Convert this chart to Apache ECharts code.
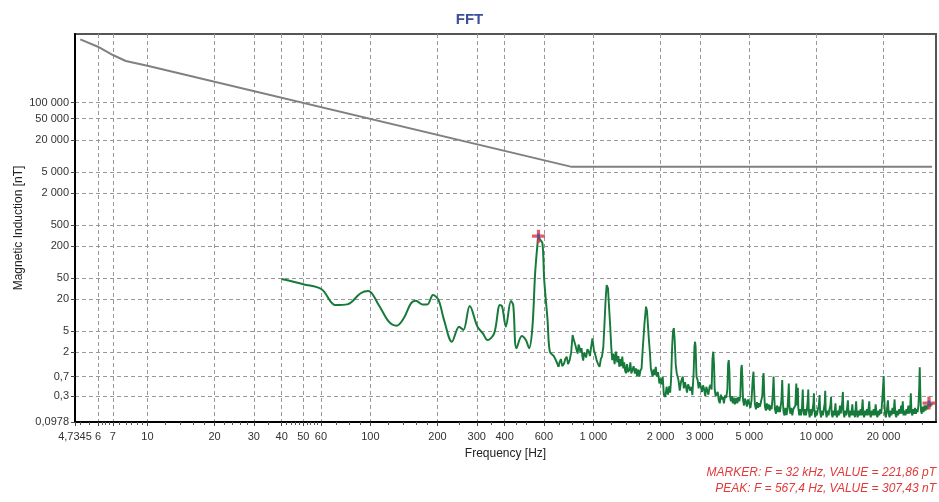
<!DOCTYPE html>
<html><head><meta charset="utf-8">
<script src="https://cdn.jsdelivr.net/npm/echarts@6/dist/echarts.min.js"></script>
<style>html,body{margin:0;padding:0;background:#fff}#c{width:939px;height:502px}</style>
</head><body><div id="c"></div>
<script>
const xTickValues = [4.7345,6,7,10,20,30,40,50,60,100,200,300,400,600,1000,2000,3000,5000,10000,20000];
const xTickLabels = ['4,7345','6','7','10','20','30','40','50','60','100','200','300','400','600','1 000','2 000','3 000','5 000','10 000','20 000'];
const xMinorTicks = [5,5.5,6.25,6.5,6.75,7.5,8,8.5,9,9.5,12,14,16,18,22,24,26,28,35,42,44,46,48,52,54,56,58,70,80,90,120,140,160,180,250,350,450,500,700,800,900,1200,1400,1600,1800,2500,3500,4000,4500,6000,7000,8000,9000,12000,14000,16000,18000,25000,30000];
const yTickValues = [100000,50000,20000,5000,2000,500,200,50,20,5,2,0.7,0.3,0.0978];
const yTickLabels = ['100 000','50 000','20 000','5 000','2 000','500','200','50','20','5','2','0,7','0,3','0,0978'];

const limitFreq = [5,6,7,8,10,800,33000];
const limitMag = [1560000,1130000,790000,610000,497000,6200,6200];

const fftLow = [[40,48],[50.4,38],[60.4,30.8],[69.8,15.5],[78.8,16],[90.4,25.9],[97.9,28.6],[109,15.6],[121,7.55],[131,6.35],[141,8.75],[152,16.7],[160,18.8],[171,16],[180,16],[191,24],[202,19.4],[214,8.1],[232,3.17],[250,6.1],[261,5.27],[279,14.9],[302,6.1],[320,4.5],[335,3.4],[359,4.56],[381,15.6],[390,14.5],[405,6.1],[427,18.5],[437,15.6],[452,2.39],[478,4.06],[498,3.4],[515,2.39],[533,6.1],[548,61.5],[562,226],[567.4,307.43],[575,269],[591,226],[602,46],[623,8.1],[638,2.06],[667,1.66],[698,1.07]];
const fftMid = [[705,1.3],[715,1.5],[725,1.1],[739,1.24],[748,1.5],[759,1.66],[770,1.2],[783,1.43],[795,2.0],[807,4.25],[815,3.6],[827,3.4],[833,2.6],[840,2.25],[850,1.9],[858,2.8],[865,2.55],[875,2.0],[885,2.4],[893,1.66],[900,1.4],[910,2.0],[918,2.06],[928,1.6],[940,2.3],[954,2.06],[965,1.7],[978,2.6],[990,3.67],[1005,2.25],[1020,1.8],[1034,1.43],[1050,1.2],[1066,1.07],[1080,1.5],[1093,1.66],[1108,2.5],[1120,6.1],[1135,20],[1147,37],[1163,32],[1175,15],[1190,6.1],[1203,2.5],[1215,1.43],[1230,1.9],[1245,1.2],[1263,2.06],[1280,1.3],[1295,1.7],[1307,1.07],[1320,1.5],[1335,1.1],[1348,1.66],[1362,1.0],[1375,1.3],[1388,0.9],[1400,0.807],[1415,1.2],[1430,0.85],[1450,0.93],[1465,1.3],[1480,0.8],[1500,0.75],[1515,1.1],[1535,0.8],[1552,1.0],[1570,0.72],[1590,0.95],[1608,0.70],[1625,0.9],[1645,1.0],[1664,2.25],[1695,7],[1722,14.5],[1740,12],[1752,11.6],[1770,4],[1794,1.9],[1810,1.0],[1825,0.85],[1843,0.70],[1860,0.95],[1880,0.75],[1905,1.07],[1925,0.7],[1950,0.85],[1977,0.52],[2000,0.65],[2020,0.5],[2046,0.70],[2070,0.32],[2102,0.29],[2130,0.45],[2160,0.32],[2190,0.46],[2210,0.35],[2230,0.6],[2255,2.5],[2275,5.0],[2295,5.7],[2315,3.5],[2340,1.2],[2365,0.81]];
const fftHigh = [[2408,0.6],[2440,0.38],[2470,0.55],[2517,0.70],[2545,0.42],[2575,0.55],[2600,0.46],[2630,0.35],[2660,0.50],[2690,0.52],[2720,0.38],[2750,0.45],[2780,0.315],[2815,0.8],[2840,2.6],[2858,3.17],[2875,2.5],[2900,0.7],[2935,0.6],[2965,0.42],[3000,0.55],[3040,0.52],[3070,0.36],[3105,0.48],[3140,0.40],[3175,0.30],[3210,0.45],[3245,0.43],[3280,0.32],[3315,0.44],[3350,0.49],[3390,0.4],[3420,1.5],[3450,2.06],[3475,1.2],[3500,0.4],[3535,0.30],[3570,0.29],[3610,0.36],[3650,0.25],[3690,0.22],[3730,0.32],[3770,0.26],[3810,0.29],[3850,0.22],[3895,0.31],[3940,0.277],[3990,0.4],[4020,1.2],[4047,1.43],[4075,0.9],[4100,0.3],[4140,0.24],[4180,0.30],[4220,0.22],[4265,0.28],[4310,0.21],[4370,0.277],[4420,0.22],[4465,0.29],[4510,0.24],[4560,0.3],[4600,1.0],[4630,1.16],[4660,0.6],[4690,0.25],[4740,0.20],[4785,0.27],[4830,0.24],[4880,0.19],[4940,0.26],[5000,0.22],[5060,0.18],[5120,0.25],[5180,0.6],[5224,0.865],[5260,0.4],[5300,0.21],[5360,0.17],[5420,0.23],[5480,0.18],[5530,0.22],[5590,0.19],[5650,0.24],[5720,0.3],[5770,0.7],[5800,0.81],[5835,0.35],[5880,0.19],[5940,0.16],[6000,0.22],[6060,0.17],[6120,0.21],[6180,0.16],[6240,0.2],[6300,0.17],[6370,0.3],[6430,0.70],[6470,0.3],[6520,0.17],[6590,0.14],[6660,0.20],[6730,0.15],[6800,0.19],[6860,0.15],[6900,0.175],[6970,0.25],[7030,0.6],[7070,0.25],[7130,0.15],[7200,0.13],[7270,0.18],[7350,0.132],[7420,0.17],[7480,0.3],[7523,0.52],[7570,0.2],[7640,0.14],[7720,0.18],[7800,0.13],[7880,0.17],[7970,0.163],[8050,0.2],[8130,0.52],[8180,0.2],[8220,0.35],[8260,0.43],[8300,0.18],[8380,0.13],[8460,0.17],[8540,0.13],[8620,0.18],[8690,0.40],[8740,0.17],[8820,0.13],[8900,0.17],[8980,0.13],[9060,0.16],[9150,0.25],[9200,0.40],[9250,0.16],[9330,0.12],[9420,0.17],[9500,0.13],[9600,0.16],[9700,0.22],[9750,0.34],[9800,0.16],[9880,0.12],[9970,0.16],[10060,0.13],[10160,0.17],[10260,0.2],[10340,0.315],[10400,0.15],[10500,0.12],[10600,0.16],[10700,0.13],[10800,0.17],[10900,0.22],[10960,0.38],[11020,0.15],[11120,0.12],[11230,0.16],[11340,0.13],[11450,0.17],[11560,0.2],[11640,0.29],[11710,0.14],[11820,0.12],[11940,0.16],[12060,0.13],[12180,0.22],[12260,0.14],[12380,0.12],[12500,0.16],[12620,0.13],[12760,0.2],[12860,0.14],[12980,0.18],[13080,0.25],[13150,0.36],[13220,0.15],[13350,0.12],[13480,0.16],[13600,0.13],[13720,0.17],[13850,0.25],[13950,0.14],[14080,0.12],[14220,0.16],[14360,0.13],[14500,0.21],[14600,0.13],[14750,0.16],[14900,0.12],[15080,0.24],[15180,0.14],[15320,0.12],[15480,0.16],[15640,0.13],[15800,0.17],[15950,0.13],[16130,0.26],[16230,0.14],[16380,0.12],[16540,0.16],[16700,0.13],[16860,0.17],[17020,0.13],[17270,0.24],[17370,0.14],[17540,0.12],[17720,0.16],[17900,0.13],[18080,0.17],[18260,0.13],[18450,0.21],[18600,0.14],[18780,0.12],[18960,0.16],[19140,0.13],[19330,0.17],[19550,0.14],[19800,0.3],[20040,0.72],[20150,0.3],[20300,0.14],[20500,0.12],[20700,0.16],[20940,0.25],[21100,0.14],[21300,0.12],[21500,0.16],[21720,0.13],[21950,0.18],[22200,0.14],[22430,0.26],[22600,0.14],[22820,0.12],[23050,0.16],[23280,0.13],[23520,0.17],[23760,0.14],[24000,0.2],[24200,0.14],[24400,0.24],[24600,0.13],[24850,0.16],[25100,0.13],[25350,0.17],[25600,0.14],[25850,0.2],[26100,0.14],[26350,0.18],[26520,0.34],[26700,0.15],[26950,0.13],[27200,0.17],[27450,0.14],[27700,0.18],[27950,0.14],[28200,0.17],[28450,0.15],[28700,0.2],[28900,0.4],[29080,1.05],[29250,0.35],[29450,0.16],[29700,0.14],[29950,0.19],[30250,0.15],[30550,0.2],[30850,0.16],[31150,0.2],[31450,0.17],[31750,0.21],[32000,0.2219],[32400,0.19],[32800,0.22],[33000,0.2]];

const peakPoint = [567.4, 307.43];
const markerPoint = [32000, 0.22186];
const markerText = 'MARKER: F = 32 kHz, VALUE = 221,86 pT';
const peakText = 'PEAK: F = 567,4 Hz, VALUE = 307,43 nT';

function lookup(vals, labels, v) {
  let best = 0, bd = Infinity;
  vals.forEach((t, i) => { const d = Math.abs(Math.log(t) - Math.log(v)); if (d < bd) { bd = d; best = i; } });
  return labels[best];
}
const FONT = '"Liberation Sans", Arial, sans-serif';
const plusPath = 'path://M3,0H5V3H8V5H5V8H3V5H0V3H3Z';
const GREEN = '#167a3a';

const chart = echarts.init(document.getElementById('c'), null, {renderer: 'canvas'});
chart.setOption({
  animation: false,
  backgroundColor: '#fff',
  title: {text: 'FFT', left: 'center', top: 7, textStyle: {color: '#3c4f9c', fontSize: 15, fontWeight: 'bold', fontFamily: FONT}},
  grid: {left: 75, right: 3, top: 34, bottom: 80, show: true, borderColor: '#555', borderWidth: 2, backgroundColor: 'transparent', outerBoundsMode: 'none', containLabel: false},
  xAxis: [{
    type: 'log', logBase: 10, min: 4.7345, max: 34400,
    name: 'Frequency [Hz]', nameLocation: 'middle', nameGap: 26,
    nameTextStyle: {color: '#222', fontSize: 12, fontFamily: FONT},
    axisLine: {show: true, onZero: false, lineStyle: {color: '#000', width: 2}},
    axisTick: {show: true, customValues: xTickValues, length: 4, lineStyle: {color: '#444'}},
    axisLabel: {customValues: xTickValues, formatter: v => lookup(xTickValues, xTickLabels, v), margin: 9, color: '#333', fontSize: 11, fontFamily: FONT},
    splitLine: {show: true, lineStyle: {type: [4, 3], color: '#999', width: 1}},
    minorTick: {show: false}
  }, {
    type: 'log', logBase: 10, min: 4.7345, max: 34400, position: 'bottom', offset: 0,
    axisLine: {show: false},
    axisTick: {show: true, customValues: xMinorTicks, length: 3, lineStyle: {color: '#555'}},
    axisLabel: {show: false},
    splitLine: {show: false}
  }],
  yAxis: {
    type: 'log', logBase: 10, min: 0.0978, max: 1963000,
    name: 'Magnetic Induction [nT]', nameLocation: 'middle', nameGap: 50, nameRotate: 90, nameMoveOverlap: false,
    nameTextStyle: {color: '#222', fontSize: 12, fontFamily: FONT},
    axisLine: {show: true, onZero: false, lineStyle: {color: '#000', width: 2}},
    axisTick: {show: true, customValues: yTickValues, length: 4, lineStyle: {color: '#444'}},
    axisLabel: {customValues: yTickValues, formatter: v => lookup(yTickValues, yTickLabels, v), margin: 6, color: '#333', fontSize: 11, fontFamily: FONT},
    splitLine: {show: true, lineStyle: {type: [4, 3], color: '#999', width: 1}}
  },
  series: [{
    type: 'line', name: 'limit', xAxisIndex: 0, symbol: 'none', z: 3,
    data: limitFreq.map((f, i) => [f, limitMag[i]]),
    lineStyle: {color: '#808080', width: 2}
  }, {
    type: 'line', name: 'fftLow', xAxisIndex: 0, symbol: 'none', z: 4, smooth: 0.35,
    data: fftLow,
    lineStyle: {color: GREEN, width: 2}
  }, {
    type: 'line', name: 'fftHigh', xAxisIndex: 0, symbol: 'none', z: 4,
    data: [fftLow[fftLow.length - 1]].concat(fftMid, fftHigh),
    lineStyle: {color: GREEN, width: 1.9}
  }, {
    type: 'scatter', xAxisIndex: 0, z: 6, symbol: plusPath, symbolSize: 13,
    itemStyle: {color: '#d9373d'}, data: [peakPoint, markerPoint]
  }, {
    type: 'scatter', xAxisIndex: 0, z: 7, symbol: 'rect', symbolSize: [3, 5],
    itemStyle: {color: '#3a55b5'}, data: [peakPoint, markerPoint]
  }],
  graphic: [
    {type: 'text', right: 3, top: 467, style: {text: markerText, fill: '#e23a3a', font: 'italic 12px ' + FONT}},
    {type: 'text', right: 3, top: 483, style: {text: peakText, fill: '#e23a3a', font: 'italic 12px ' + FONT}}
  ]
});
</script></body></html>
